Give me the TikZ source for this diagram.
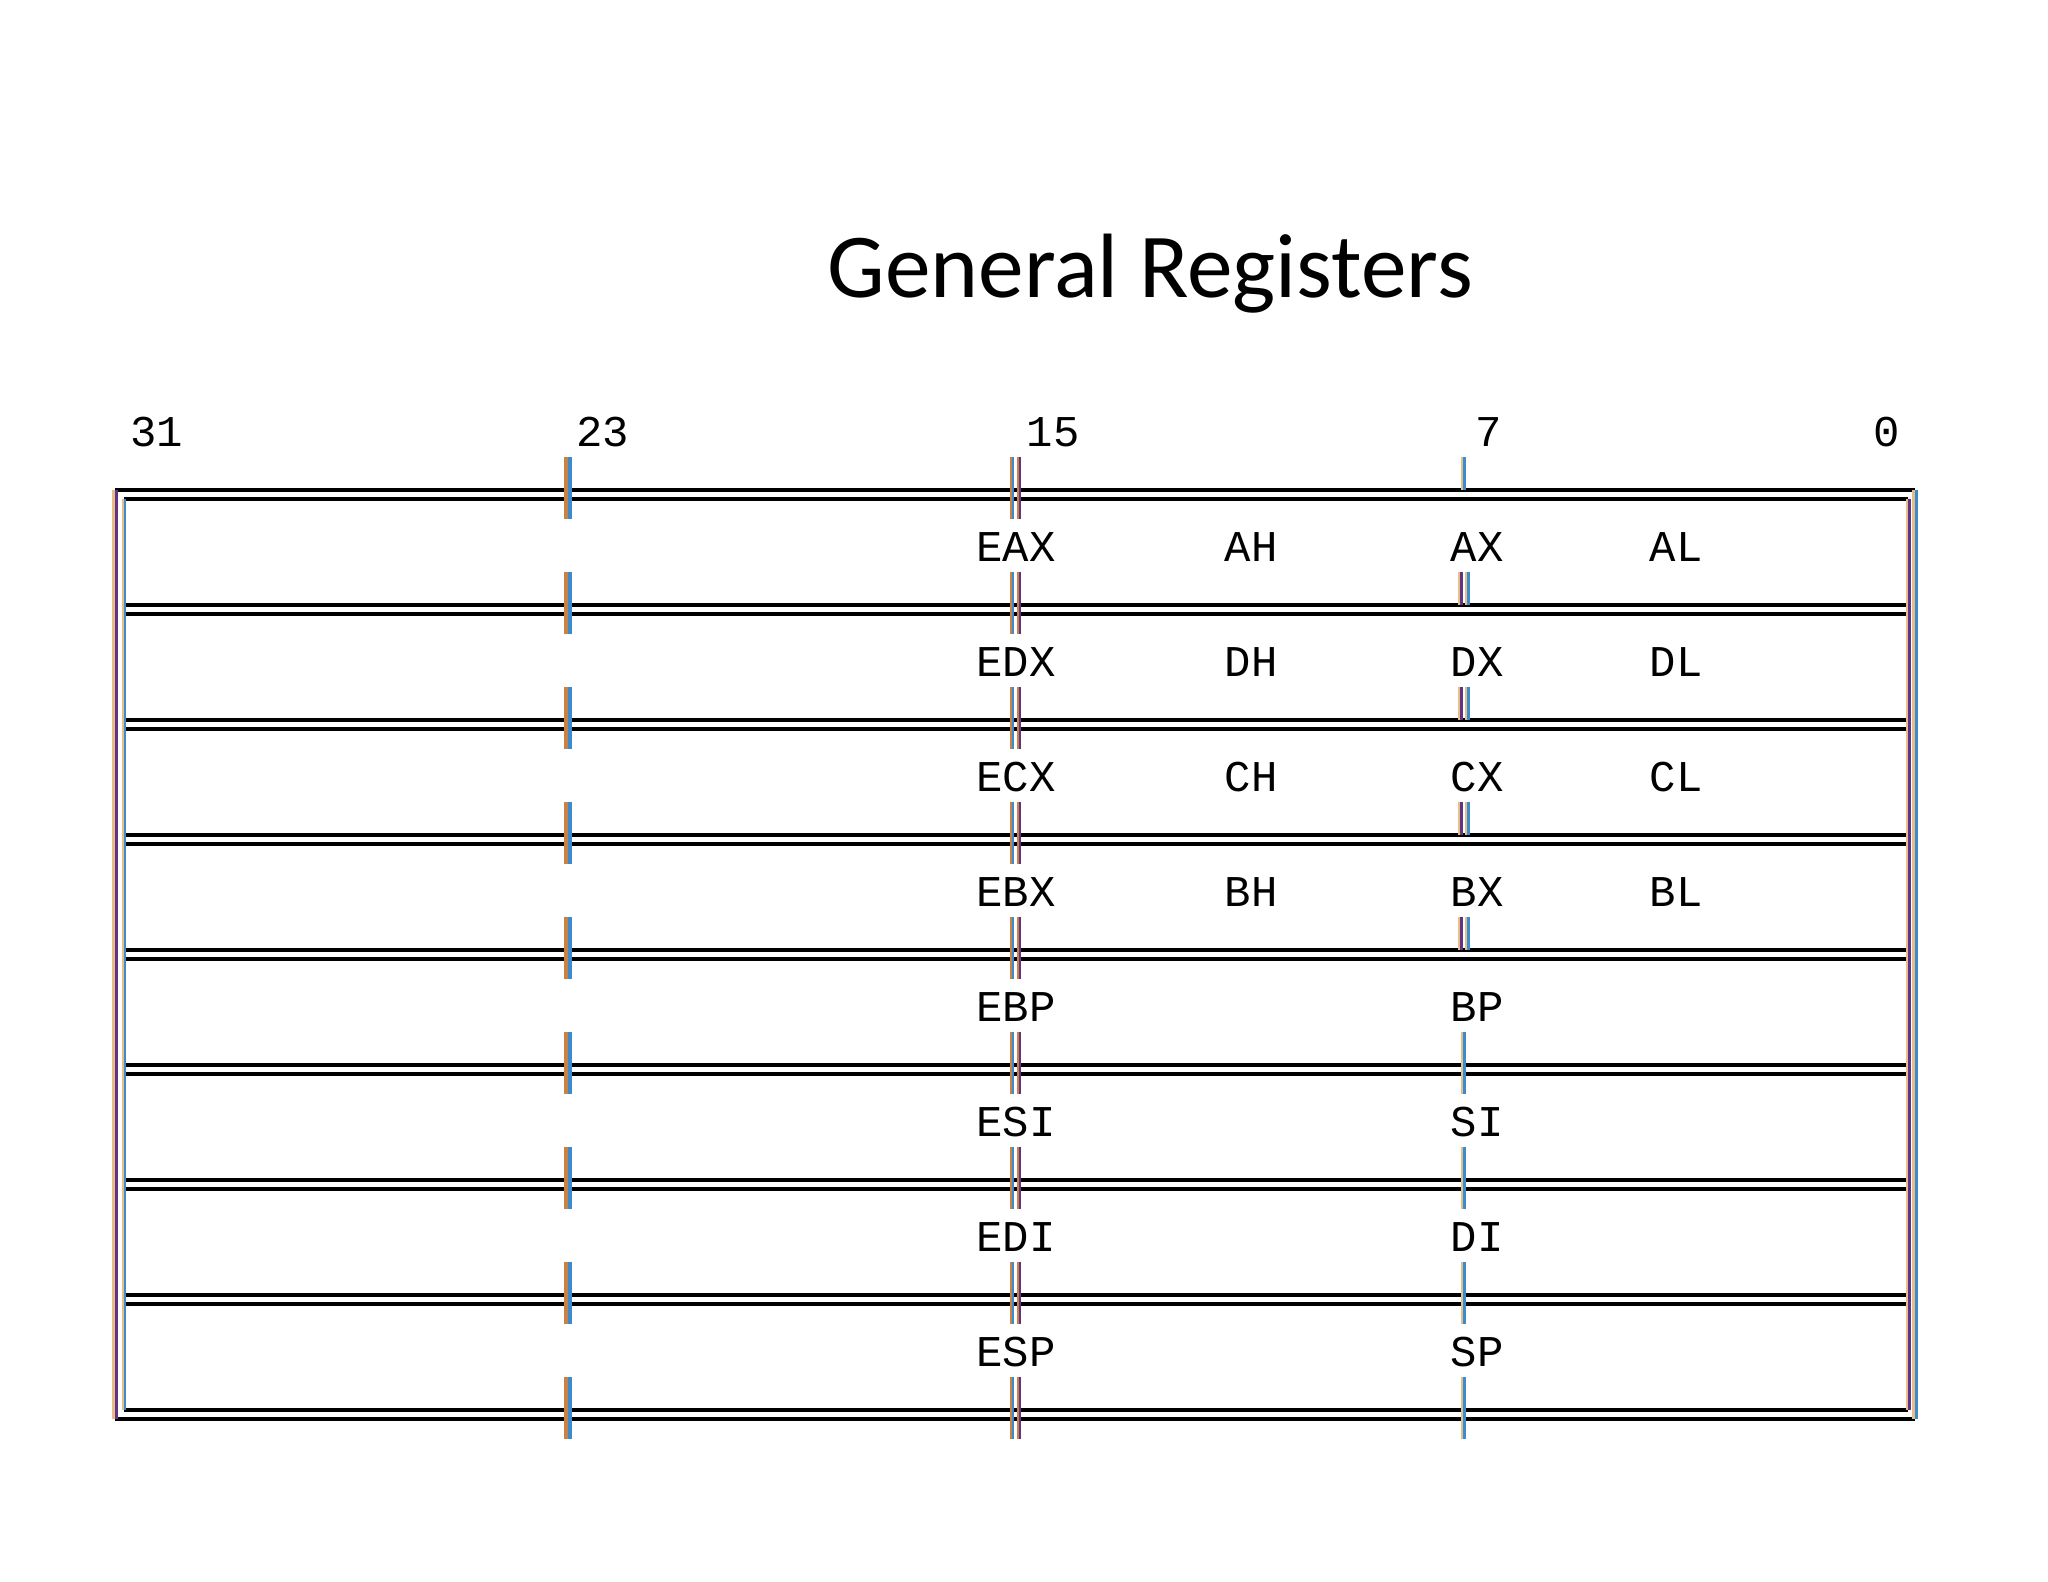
\documentclass[tikz,border=0pt]{standalone}
\usepackage{fontspec}
\newfontfamily\regfont{Liberation Mono}
\newfontfamily\headfont{Carlito}
\definecolor{fringetan}{RGB}{230,190,135}
\definecolor{fringeorange}{RGB}{200,130,70}
\definecolor{fringeblue}{RGB}{60,140,205}
\definecolor{fringepurple}{RGB}{100,50,130}
\tikzset{
  sep/.style={line width=0.4mm, color=black},
  reglabel/.style={inner sep=0pt, font=\regfont\fontsize{12.5}{12.5}\selectfont},
  headtext/.style={inner sep=0pt, anchor=base, font=\headfont\fontsize{26}{30}\selectfont}
}
\def\fringe[#1][#2][#3](#4)(#5:#6){%
  \draw[line width=#3cm, color=#1] ({#4-#3/2}, #5) -- ({#4-#3/2}, #6);
  \draw[line width=#3cm, color=#2] ({#4+#3/2}, #5) -- ({#4+#3/2}, #6);}
\def\sepline(#1){%
  \draw[sep] (1.24, #1) -- (19.08, #1);
  \draw[sep] (1.24, #1-0.09) -- (19.08, #1-0.09);
  \fringe[fringeorange][fringeblue][0.04](5.68)(#1+0.33:#1-0.29)
  \fringe[fringeorange][fringeblue][0.02](10.115)(#1+0.33:#1-0.29)
  \fringe[fringeorange][fringepurple][0.02](10.185)(#1+0.33:#1-0.29)}

\begin{document}
\begin{tikzpicture}
			%%%%% START %%%%%
			\useasboundingbox (0, 0) rectangle (20.48, 15.82);
			
			\node[headtext] (title) at (11.5, 12.84) {General Registers};
			
			\node[reglabel] (bit31) at (1.57, 11.50) {31};
			\node[reglabel] (bit23) at (6.03, 11.50) {23};
			\node[reglabel] (bit15) at (10.53, 11.50) {15};
			\node[reglabel] (bit7) at (14.89, 11.50) {7};
			\node[reglabel] (bit0) at (18.87, 11.50) {0};
			
			\draw[sep] (1.15, 10.92) -- (19.15, 10.92);
			\draw[sep] (1.15, 1.63) -- (19.15, 1.63);
			\sepline(10.92)
			\sepline(9.77)
			\sepline(8.62)
			\sepline(7.47)
			\sepline(6.32)
			\sepline(5.17)
			\sepline(4.02)
			\sepline(2.87)
			\sepline(1.72)
			
			\fringe[fringetan][fringepurple][0.03](1.15)(10.92:1.63)
			\fringe[fringetan][fringeblue][0.02](1.24)(10.83:1.72)
			\fringe[fringetan][fringepurple][0.025](19.08)(10.83:1.72)
			\fringe[fringetan][fringeblue][0.03](19.15)(10.92:1.63)
			
			\fringe[fringetan][fringeblue][0.025](14.63)(11.25:10.92)
			\fringe[fringetan][fringepurple][0.025](14.60)(10.10:9.77)
			\fringe[fringetan][fringeblue][0.025](14.67)(10.10:9.77)
			\fringe[fringetan][fringepurple][0.025](14.60)(8.95:8.62)
			\fringe[fringetan][fringeblue][0.025](14.67)(8.95:8.62)
			\fringe[fringetan][fringepurple][0.025](14.60)(7.80:7.47)
			\fringe[fringetan][fringeblue][0.025](14.67)(7.80:7.47)
			\fringe[fringetan][fringepurple][0.025](14.60)(6.65:6.32)
			\fringe[fringetan][fringeblue][0.025](14.67)(6.65:6.32)
			\fringe[fringetan][fringeblue][0.025](14.63)(5.50:4.88)
			\fringe[fringetan][fringeblue][0.025](14.63)(4.35:3.73)
			\fringe[fringetan][fringeblue][0.025](14.63)(3.20:2.58)
			\fringe[fringetan][fringeblue][0.025](14.63)(2.05:1.43)
			
			\node[reglabel] (eax) at (10.16, 10.35) {EAX};
			\node[reglabel] (ah) at (12.51, 10.35) {AH};
			\node[reglabel] (ax) at (14.77, 10.35) {AX};
			\node[reglabel] (al) at (16.76, 10.35) {AL};
			
			\node[reglabel] (edx) at (10.16, 9.20) {EDX};
			\node[reglabel] (dh) at (12.51, 9.20) {DH};
			\node[reglabel] (dx) at (14.77, 9.20) {DX};
			\node[reglabel] (dl) at (16.76, 9.20) {DL};
			
			\node[reglabel] (ecx) at (10.16, 8.05) {ECX};
			\node[reglabel] (ch) at (12.51, 8.05) {CH};
			\node[reglabel] (cx) at (14.77, 8.05) {CX};
			\node[reglabel] (cl) at (16.76, 8.05) {CL};
			
			\node[reglabel] (ebx) at (10.16, 6.90) {EBX};
			\node[reglabel] (bh) at (12.51, 6.90) {BH};
			\node[reglabel] (bx) at (14.77, 6.90) {BX};
			\node[reglabel] (bl) at (16.76, 6.90) {BL};
			
			\node[reglabel] (ebp) at (10.16, 5.75) {EBP};
			\node[reglabel] (bp) at (14.77, 5.75) {BP};
			\node[reglabel] (esi) at (10.16, 4.60) {ESI};
			\node[reglabel] (si) at (14.77, 4.60) {SI};
			\node[reglabel] (edi) at (10.16, 3.45) {EDI};
			\node[reglabel] (di) at (14.77, 3.45) {DI};
			\node[reglabel] (esp) at (10.16, 2.30) {ESP};
			\node[reglabel] (sp) at (14.77, 2.30) {SP};
			
			%%%%% END %%%%%
\end{tikzpicture}
\end{document}
